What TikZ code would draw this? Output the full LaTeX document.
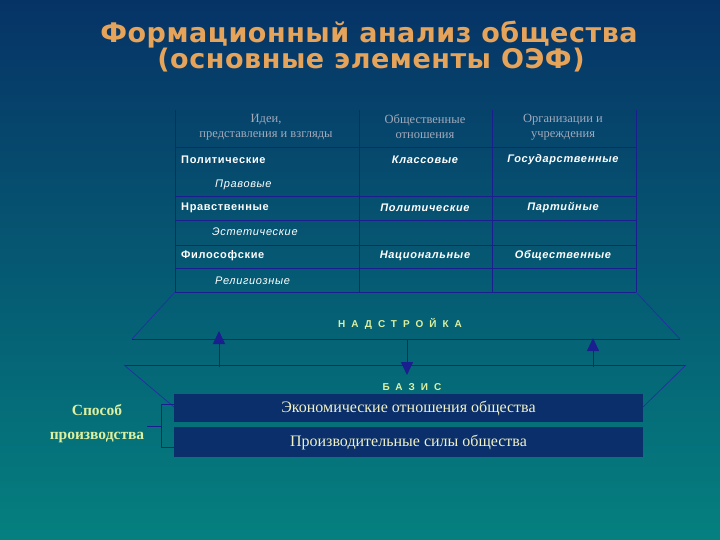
\documentclass[tikz,border=0pt]{standalone}
\usepackage{fontspec}
\setmainfont{Liberation Serif}
\newfontfamily\titlefont{DejaVu Sans}
\newfontfamily\tabfont{Liberation Sans}
\usetikzlibrary{arrows.meta}
\definecolor{bgtop}{HTML}{063366}
\definecolor{bgbot}{HTML}{05807F}
\definecolor{titlecol}{HTML}{E6A35A}
\definecolor{gridcol}{HTML}{1A1E8E}
\definecolor{diagcol}{HTML}{2232A0}
\definecolor{boxfill}{HTML}{0A2F6B}
\definecolor{boxtext}{HTML}{F2F2C6}
\definecolor{labcol}{HTML}{DDF0A0}
\definecolor{headcol}{HTML}{A2AABA}
\tikzset{
  titletext/.style={text=titlecol,font=\titlefont\bfseries\fontsize{27}{30}\selectfont\addfontfeature{LetterSpace=2},inner sep=0pt},
  headtext/.style={text=headcol,font=\fontsize{12.5}{15}\selectfont,align=center,inner sep=0pt},
  lefttext/.style={text=white,font=\tabfont\bfseries\fontsize{11}{12}\selectfont\addfontfeature{LetterSpace=6},anchor=west,inner sep=0pt},
  subtext/.style={text=white,font=\tabfont\itshape\fontsize{11}{12}\selectfont\addfontfeature{LetterSpace=6},anchor=west,inner sep=0pt},
  celltext/.style={text=white,font=\tabfont\bfseries\itshape\fontsize{11}{12}\selectfont\addfontfeature{LetterSpace=6},inner sep=0pt},
  tabline/.style={draw=gridcol,line width=1pt},
  diagline/.style={draw=diagcol,line width=0.8pt},
  layertext/.style={text=labcol,font=\tabfont\bfseries\fontsize{10}{12}\selectfont\addfontfeature{LetterSpace=60},inner sep=0pt},
  ebox/.style={fill=boxfill,draw=none,minimum width=469pt,text=boxtext,font=\fontsize{16}{18}\selectfont,inner sep=0pt},
  sidetext/.style={text=labcol,font=\bfseries\fontsize{15.5}{24}\selectfont,align=center,inner sep=0pt},
  arr/.style={draw=gridcol,line width=1pt,-{Triangle[width=12pt,length=13pt]},fill=gridcol},
  bracket/.style={draw=gridcol,line width=0.8pt}
}
\begin{document}
\begin{tikzpicture}[x=1pt,y=-1pt]
\shade[top color=bgtop,bottom color=bgbot] (0pt,0pt) rectangle (720pt,-540pt);
\useasboundingbox (0pt,0pt) rectangle (720pt,-540pt);

% title
\node[titletext] (t1) at (369,35) {Формационный анализ общества};
\node[titletext] (t2) at (371,60) {(основные элементы ОЭФ)};

% table grid
\foreach \xx in {175,359,492,636} \draw[tabline] (\xx,110) -- (\xx,292);
\foreach \yy in {148,197,221,245,268,292} \draw[tabline] (175,\yy) -- (636,\yy);

% header
\node[headtext] (h1) at (266,127) {Идеи,\\представления и взгляды};
\node[headtext] (h2) at (425,127) {Общественные\\отношения};
\node[headtext] (h3) at (563,127) {Организации и\\учреждения};

% rows
\node[lefttext] (r1) at (181,160) {Политические};
\node[subtext] (r1s) at (215,185) {Правовые};
\node[celltext] (c12) at (425,160) {Классовые};
\node[celltext] (c13) at (563,160) {Государственные};

\node[lefttext] (r2) at (181,208) {Нравственные};
\node[subtext] (r2s) at (212,232) {Эстетические};
\node[celltext] (c22) at (425,208) {Политические};
\node[celltext] (c23) at (563,208) {Партийные};

\node[lefttext] (r3) at (181,256) {Философские};
\node[subtext] (r3s) at (215,281) {Религиозные};
\node[celltext] (c32) at (425,256) {Национальные};
\node[celltext] (c33) at (563,256) {Общественные};

% superstructure trapezoid
\draw[diagline] (175,292) -- (132,339);
\draw[diagline] (636,292) -- (680,339);
\draw[tabline] (132,339) -- (680,339);
\node[layertext] (nad) at (400,324) {НАДСТРОЙКА};

% basis trapezoid
\draw[tabline] (124,365) -- (686,365);
\draw[diagline] (124,365) -- (174,407);
\draw[diagline] (686,365) -- (643,407);
\node[layertext] (baz) at (412,387) {БАЗИС};

% arrows
\coordinate (a1s) at (219,367); \coordinate (a1e) at (219,331);
\coordinate (a2s) at (407,339); \coordinate (a2e) at (407,375);
\coordinate (a3s) at (593,367); \coordinate (a3e) at (593,338);
\draw[arr] (a1s) -- (a1e);
\draw[arr] (a2s) -- (a2e);
\draw[arr] (a3s) -- (a3e);

% basis boxes
\node[ebox,minimum height=28pt] (econ) at (408.5,408) {Экономические отношения общества};
\node[ebox,minimum height=30pt] (prod) at (408.5,442) {Производительные силы общества};

% mode of production
\node[sidetext] (sp) at (97,424) {Способ\\производства};
\coordinate (bk1) at (161,404);
\coordinate (bk2) at (161,447);
\coordinate (bkm) at (161,426);
\coordinate (bkl) at (147,426);
\draw[bracket] (econ.west |- bk1) -- (bk1) -- (bk2) -- (prod.west |- bk2);
\draw[bracket] (bkl) -- (bkm);
\end{tikzpicture}
\end{document}
